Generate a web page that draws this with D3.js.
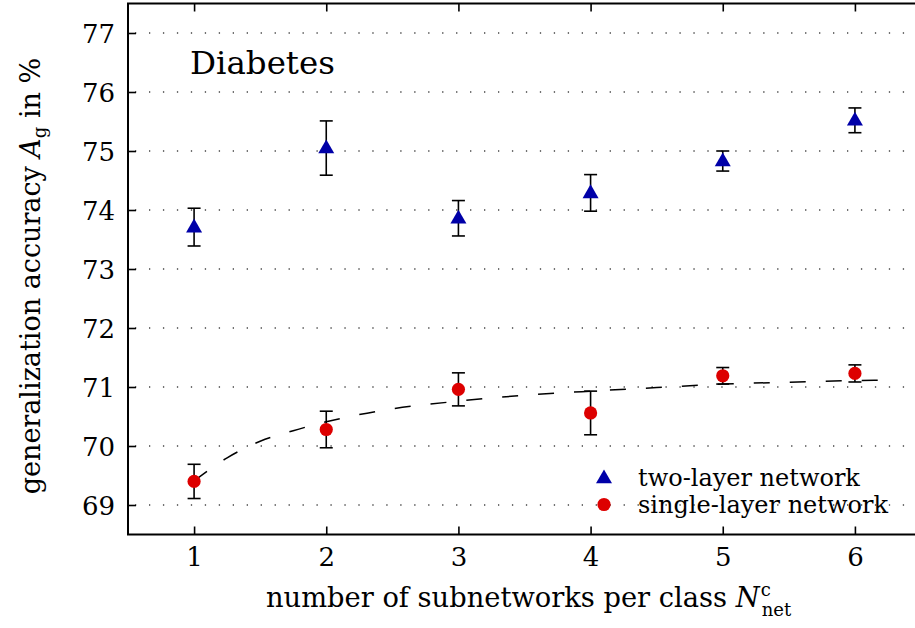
<!DOCTYPE html>
<html><head><meta charset="utf-8">
<script src="https://cdn.jsdelivr.net/npm/d3@7"></script>
<style>
body{margin:0;background:#fff}
</style>
</head><body>
<svg id="chart" width="915" height="628" font-family="DejaVu Serif"></svg>
<script>
// ---- data ----
const subnetworks = [1, 2, 3, 4, 5, 6];
const twoLayerMean = [73.71, 75.05, 73.86, 74.29, 74.83, 75.52];
const twoLayerErr  = [0.32, 0.46, 0.30, 0.31, 0.17, 0.21];
const singleLayerMean = [69.40, 70.28, 70.96, 70.56, 71.19, 71.23];
const singleLayerErr  = [0.29, 0.31, 0.28, 0.37, 0.14, 0.145];
const fitX = [1, 1.25, 1.5, 1.75, 2, 2.5, 3, 3.5, 4, 4.5, 5, 5.5, 6, 6.3];
const fitY = [69.41, 69.80, 70.08, 70.26, 70.41, 70.63, 70.76, 70.86, 70.93, 70.99, 71.05, 71.08, 71.11, 71.12];
const xTicks = [1, 2, 3, 4, 5, 6];
const yTicks = [69, 70, 71, 72, 73, 74, 75, 76, 77];
const seriesNames = ["two-layer network", "single-layer network"];
const titleText = "Diabetes";

// ---- layout ----
const FONT = "DejaVu Serif";
const svg = d3.select("#chart");
const L = 128, R = 921, T = 3.5, B = 534.5;
const x = d3.scaleLinear().domain([0.5, 6.5]).range([L, R]);
const y = d3.scaleLinear().domain([68.5, 77.5]).range([B, T]);
const blue = "#0000a8", red = "#dd0000";

// gridlines
svg.append("g").selectAll("line").data(yTicks).join("line")
  .attr("x1", L).attr("x2", R)
  .attr("y1", d => y(d)).attr("y2", d => y(d))
  .attr("stroke", "#444").attr("stroke-width", 1.3)
  .attr("stroke-dasharray", "1.3,12.66").attr("stroke-dashoffset", 6.96);

// axes (inward ticks)
const gx = svg.append("g").attr("transform", `translate(0,${B})`)
  .call(d3.axisBottom(x).tickValues(xTicks).tickSize(-8).tickSizeOuter(0).tickFormat(d3.format("d")));
gx.selectAll("text").attr("y", 31.5).attr("dy", 0);
const gt = svg.append("g").attr("transform", `translate(0,${T})`)
  .call(d3.axisTop(x).tickValues(xTicks).tickSize(-8).tickSizeOuter(0).tickFormat(""));
const gy = svg.append("g").attr("transform", `translate(${L},0)`)
  .call(d3.axisLeft(y).tickValues(yTicks).tickSize(-8).tickSizeOuter(0).tickFormat(d3.format("d")));
gy.selectAll("text").attr("x", -13).attr("dy", "0.36em");
[gx, gt, gy].forEach(g => {
  g.attr("font-family", FONT).attr("font-size", 26);
  g.select(".domain").remove();
  g.selectAll(".tick line").attr("stroke", "#000").attr("stroke-width", 1.6);
  g.selectAll("text").attr("font-family", FONT).attr("fill", "#000");
});

// frame
svg.append("rect").attr("x", L).attr("y", T).attr("width", R - L).attr("height", B - T)
  .attr("fill", "none").attr("stroke", "#000").attr("stroke-width", 2);

// fitted dashed curve
const fit = fitX.map((v, i) => [v, fitY[i]]);
svg.append("path").datum(fit)
  .attr("d", d3.line().x(d => x(d[0])).y(d => y(d[1])).curve(d3.curveMonotoneX))
  .attr("fill", "none").attr("stroke", "#000").attr("stroke-width", 1.5)
  .attr("stroke-dasharray", "16,20");

// error bars
function errorBars(means, errs) {
  const g = svg.append("g").attr("stroke", "#000").attr("stroke-width", 1.6);
  subnetworks.forEach((s, i) => {
    const cx = x(s), y1 = y(means[i] + errs[i]), y2 = y(means[i] - errs[i]);
    g.append("line").attr("x1", cx).attr("x2", cx).attr("y1", y1).attr("y2", y2);
    g.append("line").attr("x1", cx - 6.5).attr("x2", cx + 6.5).attr("y1", y1).attr("y2", y1);
    g.append("line").attr("x1", cx - 6.5).attr("x2", cx + 6.5).attr("y1", y2).attr("y2", y2);
  });
}
errorBars(twoLayerMean, twoLayerErr);
errorBars(singleLayerMean, singleLayerErr);

const tri = (cx, cy) => `M${cx},${cy - 8.6}L${cx + 8},${cy + 5.3}L${cx - 8},${cy + 5.3}Z`;
svg.append("g").selectAll("path").data(subnetworks).join("path")
  .attr("d", (d, i) => tri(x(d), y(twoLayerMean[i]))).attr("fill", blue);
svg.append("g").selectAll("circle").data(subnetworks).join("circle")
  .attr("cx", d => x(d)).attr("cy", (d, i) => y(singleLayerMean[i])).attr("r", 6.6).attr("fill", red);

// title
svg.append("text").attr("x", 190).attr("y", 74).attr("font-size", 32.5)
  .attr("font-family", FONT).text(titleText);

// legend
svg.append("path").attr("d", tri(604, 478)).attr("fill", blue);
svg.append("circle").attr("cx", 604).attr("cy", 504.5).attr("r", 6.6).attr("fill", red);
svg.append("text").attr("x", 638).attr("y", 486).attr("font-size", 24).attr("font-family", FONT).text(seriesNames[0]);
svg.append("text").attr("x", 638).attr("y", 512.5).attr("font-size", 24).attr("font-family", FONT).text(seriesNames[1]);

// x label
const xl = svg.append("text").attr("x", 266).attr("y", 607).attr("font-size", 27.3).attr("font-family", FONT);
xl.append("tspan").text("number of subnetworks per class ");
xl.append("tspan").attr("font-style", "italic").text("N");
xl.append("tspan").attr("font-size", 18).attr("dy", -11).attr("dx", 1).text("c");
xl.append("tspan").attr("font-size", 18).attr("dy", 20).attr("dx", -9).text("net");

// y label
const yl = svg.append("text").attr("transform", "translate(40,276) rotate(-90)")
  .attr("text-anchor", "middle").attr("font-size", 27).attr("font-family", FONT);
yl.append("tspan").text("generalization accuracy ");
yl.append("tspan").attr("font-style", "italic").text("A");
yl.append("tspan").attr("font-size", 18).attr("dy", 6).text("g");
yl.append("tspan").attr("dy", -6).text(" in %");
</script>
</body></html>
